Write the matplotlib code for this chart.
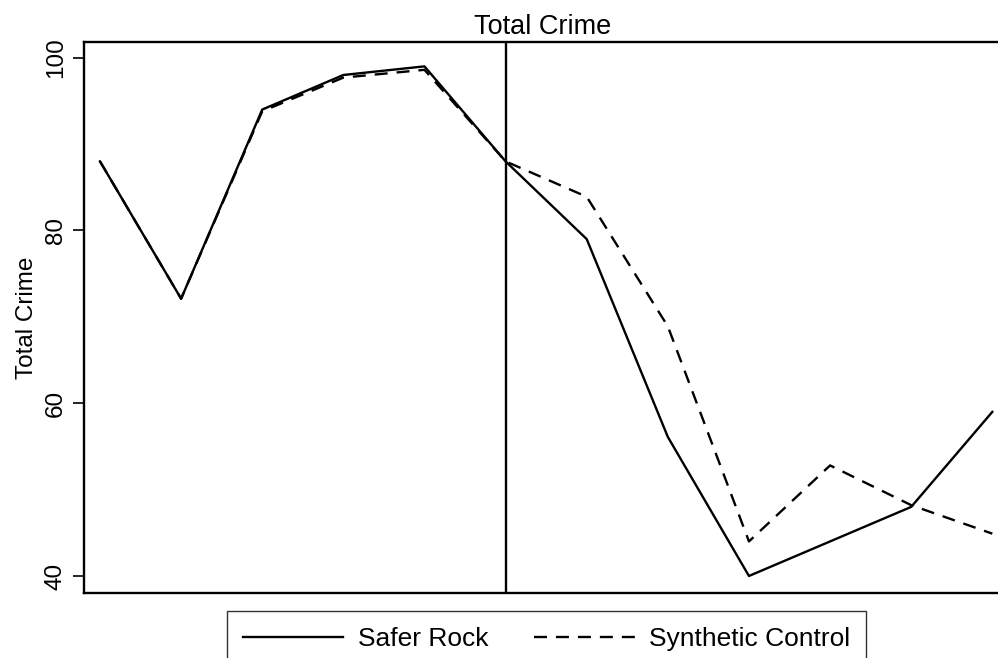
import matplotlib
matplotlib.use("Agg")
import matplotlib.pyplot as plt

# data (12 periods, treatment after period 6)
periods = [1, 2, 3, 4, 5, 6, 7, 8, 9, 10, 11, 12]
safer_rock = [88.0, 72.1, 94.0, 98.0, 99.0, 88.0, 79.0, 56.1, 40.0, 44.0, 48.0, 59.0]
synthetic = [88.0, 72.1, 93.8, 97.7, 98.6, 88.0, 83.9, 68.9, 44.0, 52.8, 48.2, 44.9]
treat_period = 6
yticks = [40, 60, 80, 100]

plt.rcParams['font.family'] = ['Liberation Sans', 'DejaVu Sans']

fig = plt.figure(figsize=(9.98, 6.58), dpi=100)
ax = fig.add_axes([84/998, 1-593/658, (1001-84)/998, (593-42)/658])

ax.plot(periods, safer_rock, color='black', lw=1.7, label='Safer Rock')
ax.plot(periods, synthetic, color='black', lw=1.7, linestyle=(0, (5.5, 3.8)),
        label='Synthetic Control')
ax.axvline(treat_period, color='black', lw=1.7)

ax.set_xlim(periods[0] - 0.197, periods[0] + 11.107)
ax.set_ylim(38.03, 101.82)
ax.set_xticks([])
ax.set_yticks(yticks)
ax.tick_params(axis='y', length=8, width=1.2, pad=4.3, labelsize=17.5, labelrotation=90)
for lab in ax.get_yticklabels():
    lab.set_va('center')
for sp in ax.spines.values():
    sp.set_linewidth(1.7)

ax.set_title('Total Crime', fontsize=19.5, pad=6)
ax.set_ylabel('Total Crime', fontsize=17.5)
ax.yaxis.set_label_coords(-0.05, 0.5)

leg = fig.legend(loc='upper left', bbox_to_anchor=(227/998, 1-611/658), ncol=2,
                 fontsize=19, frameon=True, fancybox=False, edgecolor='black',
                 handlelength=3.8, handletextpad=0.55, columnspacing=1.75,
                 borderpad=0.6, borderaxespad=0)
leg.get_frame().set_linewidth(1.0)

fig.savefig('out.png', dpi=100)
